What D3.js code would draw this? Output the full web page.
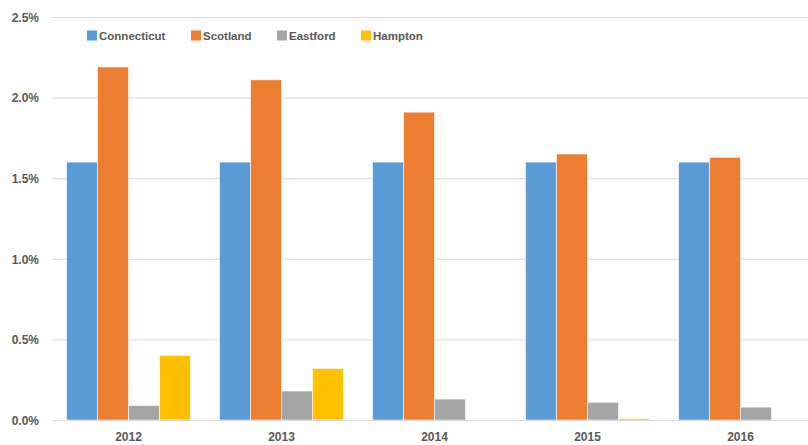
<!DOCTYPE html>
<html>
<head>
<meta charset="utf-8">
<script src="https://cdn.jsdelivr.net/npm/d3@7"></script>
<style>
  html, body { margin: 0; padding: 0; background: #fff; }
  svg text { font-family: "Liberation Sans", Arial, sans-serif; font-weight: bold; fill: #595959; }
</style>
</head>
<body>
<svg id="chart" width="808" height="445"></svg>
<script>
// Annual rates by area (percent)
const years = ["2012", "2013", "2014", "2015", "2016"];
const seriesNames = ["Connecticut", "Scotland", "Eastford", "Hampton"];
const connecticut = [1.60, 1.60, 1.60, 1.60, 1.60];
const scotland = [2.19, 2.11, 1.91, 1.65, 1.63];
const eastford = [0.09, 0.18, 0.13, 0.11, 0.08];
const hampton = [0.40, 0.32, 0, 0.01, 0];
const yTicks = [0, 0.5, 1.0, 1.5, 2.0, 2.5];
const colors = ["#5B9BD5", "#ED7D31", "#A5A5A5", "#FFC000"];

const seriesValues = [connecticut, scotland, eastford, hampton];

const svg = d3.select("#chart");
const plot = { left: 52, right: 817, top: 17, bottom: 420 };

const y = d3.scaleLinear().domain([0, 2.5]).range([plot.bottom, plot.top]);
const x0 = d3.scaleBand().domain(years).range([plot.left, plot.right]).paddingInner(0.19).paddingOuter(0.095);
const x1 = d3.scaleBand().domain(seriesNames).range([0, x0.bandwidth()]);
const color = d3.scaleOrdinal().domain(seriesNames).range(colors);

// Horizontal gridlines and y-axis labels
const yAxis = d3.axisLeft(y).tickValues(yTicks).tickFormat(d => d.toFixed(1) + "%")
  .tickSize(-(808 - plot.left)).tickPadding(13);
const gy = svg.append("g").attr("transform", `translate(${plot.left},0)`).call(yAxis);
gy.select(".domain").remove();
gy.selectAll(".tick line").attr("stroke", "#D9D9D9").attr("stroke-width", 1);
gy.selectAll(".tick text").style("font-size", "12px").attr("dy", "0.35em");

// Bars
const groups = svg.append("g").selectAll("g").data(years).join("g")
  .attr("transform", d => `translate(${x0(d)},0)`);
groups.selectAll("rect")
  .data((d, i) => seriesNames.map((s, j) => ({ series: s, value: seriesValues[j][i] })))
  .join("rect")
  .attr("x", d => x1(d.series))
  .attr("width", x1.bandwidth())
  .attr("y", d => y(d.value))
  .attr("height", d => y(0) - y(d.value))
  .attr("fill", d => color(d.series))
  .attr("stroke", d => d.value > 0 ? "#fff" : "none")
  .attr("stroke-width", 0.6);

// Baseline
svg.append("line").attr("x1", plot.left).attr("x2", 808)
  .attr("y1", y(0) + 0.5).attr("y2", y(0) + 0.5).attr("stroke", "#D9D9D9");

// Category labels
const xAxis = d3.axisBottom(x0).tickSize(0).tickPadding(12);
const gx = svg.append("g").attr("transform", `translate(0,${plot.bottom})`).call(xAxis);
gx.select(".domain").remove();
gx.selectAll(".tick text").style("font-size", "12px");

// Legend
const legendX = [87, 191, 277, 361];
const legend = svg.append("g").selectAll("g").data(seriesNames).join("g")
  .attr("transform", (d, i) => `translate(${legendX[i]},30)`);
legend.append("rect").attr("width", 10).attr("height", 10).attr("y", 0.5)
  .attr("fill", d => color(d));
legend.append("text").attr("x", 12).attr("y", 5.5).attr("dy", "0.35em")
  .style("font-size", "11.5px").text(d => d);
</script>
</body>
</html>
